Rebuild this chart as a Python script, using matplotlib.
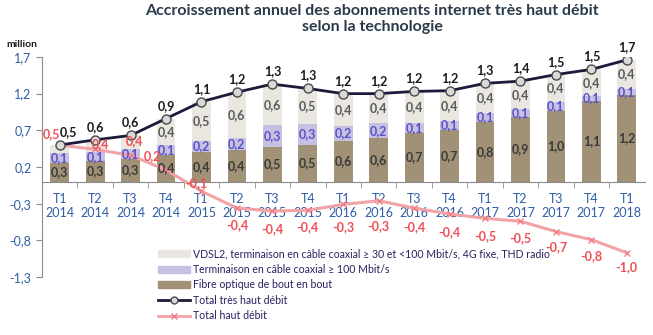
import matplotlib
matplotlib.use("Agg")
import matplotlib.pyplot as plt
from matplotlib.patches import Patch
from matplotlib.lines import Line2D

plt.rcParams['font.family'] = ['Lato', 'DejaVu Sans']

# quarters
quarters = ['T1', 'T2', 'T3', 'T4', 'T1', 'T2', 'T3', 'T4', 'T1', 'T2', 'T3', 'T4',
            'T1', 'T2', 'T3', 'T4', 'T1']
years = ['2014'] * 4 + ['2015'] * 4 + ['2016'] * 4 + ['2017'] * 4 + ['2018']

# millions
fibre = [0.26, 0.28, 0.31, 0.37, 0.40, 0.43, 0.47, 0.50, 0.56, 0.59, 0.66, 0.71,
         0.82, 0.88, 0.97, 1.10, 1.18]
coax = [0.13, 0.12, 0.14, 0.13, 0.16, 0.17, 0.30, 0.29, 0.20, 0.21, 0.14, 0.12,
        0.12, 0.11, 0.11, 0.07, 0.08]
vdsl = [0.11, 0.17, 0.18, 0.36, 0.53, 0.62, 0.56, 0.48, 0.44, 0.40, 0.43, 0.41,
        0.40, 0.38, 0.38, 0.36, 0.40]
total_thd = [0.50, 0.57, 0.63, 0.86, 1.09, 1.22, 1.33, 1.27, 1.20, 1.20, 1.23, 1.24,
             1.34, 1.37, 1.46, 1.53, 1.66]
total_hd = [0.50, 0.44, 0.36, 0.16, -0.13, -0.36, -0.40, -0.39, -0.31, -0.26, -0.36,
            -0.44, -0.50, -0.54, -0.68, -0.79, -0.97]

yticks = [-1.3, -0.8, -0.3, 0.2, 0.7, 1.2, 1.7]

c_fibre = '#a09177'
c_coax = '#c6c1e2'
c_vdsl = '#e9e7e0'
c_thd = '#1b1b3b'
c_hd = '#f3a3a6'
c_hd_txt = '#ef4f55'
c_tick = '#2f5da6'


def fmt(v):
    return f"{v:.1f}".replace('.', ',')


fig = plt.figure(figsize=(6.53, 3.35), dpi=100)
ax = fig.add_axes([0.0643, 0.173, 0.9227, 0.657])

x = list(range(len(quarters)))
w = 0.53
bottom2 = [f + c for f, c in zip(fibre, coax)]
ax.bar(x, fibre, w, color=c_fibre, zorder=2)
ax.bar(x, coax, w, bottom=fibre, color=c_coax, zorder=2)
ax.bar(x, vdsl, w, bottom=bottom2, color=c_vdsl, zorder=2)

fs = 9
for i in x:
    ax.text(i, fibre[i] / 2, fmt(fibre[i]), ha='center', va='center',
            fontsize=fs, fontweight='bold', color='#3a3a3a', zorder=5)
    ax.text(i, fibre[i] + coax[i] / 2, fmt(coax[i]), ha='center', va='center',
            fontsize=fs, fontweight='bold', color='#5b52c8', zorder=5)
    if vdsl[i] >= 0.2:
        ax.text(i, bottom2[i] + vdsl[i] / 2, fmt(vdsl[i]), ha='center', va='center',
                fontsize=fs, fontweight='bold', color='#5a5a5a', zorder=5)

ax.plot(x, total_hd, color=c_hd, lw=2.2, marker='x', ms=5, mew=1,
        mec='#ee8088', zorder=3)
ax.plot(x, total_thd, color=c_thd, lw=2, marker='o', ms=6.5,
        mfc='#d9d9d9', mec='#4a4a4a', mew=1, zorder=4)

for i in x:
    dx = 6 if i == 0 else 0
    ax.annotate(fmt(total_thd[i]), (i, total_thd[i]), xytext=(dx, 5),
                textcoords='offset points', ha='center', va='bottom',
                fontsize=fs, fontweight='bold', color='#1a1a1a', zorder=6)

# label placement for the "haut débit" values (points)
hd_off = [(-6, 8), (4, 4), (3, 10), (-10, 10), (-4, 6),
          (0, -12), (0, -13), (0, -12), (0, -16.5), (0, -18.5), (0, -14),
          (0, -13), (0, -13), (0, -12), (0, -11), (0, -12), (0, -10)]
for i in x:
    ox, oy = hd_off[i]
    ax.annotate(fmt(total_hd[i]), (i, total_hd[i]), xytext=(ox, oy),
                textcoords='offset points', ha='center', va='center',
                fontsize=fs, fontweight='bold', color=c_hd_txt, zorder=6)

ax.set_xlim(-0.5, len(x) - 0.5)
ax.set_ylim(-1.3, 1.7)
ax.set_yticks(yticks)
ax.set_yticklabels([fmt(v) for v in yticks])
ax.set_xticks(x)
ax.set_xticklabels([f"{q}\n{y}" for q, y in zip(quarters, years)], linespacing=1.15)
ax.set_xticks([i + 0.5 for i in x[:-1]], minor=True)
ax.tick_params(axis='x', which='major', length=0, pad=8, labelsize=9, colors=c_tick)
ax.tick_params(axis='x', which='minor', length=4, color='#8c8c8c', direction='out')
ax.tick_params(axis='y', length=4, color='#8c8c8c', labelsize=9, labelcolor=c_tick)

for s in ['top', 'right']:
    ax.spines[s].set_visible(False)
ax.spines['bottom'].set_position(('data', 0))
ax.spines['bottom'].set_color('#8c8c8c')
ax.spines['left'].set_color('#8c8c8c')

fig.text(0.57, 0.988, "Accroissement annuel des abonnements internet très haut débit\nselon la technologie",
         ha='center', va='top', fontsize=11.5, fontweight='bold', color='#2a3a4a',
         linespacing=1.2)
fig.text(0.01, 0.855, "million", ha='left', va='bottom', fontsize=7.5,
         fontweight='bold', color='#1a1a1a')

handles = [
    Patch(color=c_vdsl),
    Patch(color=c_coax),
    Patch(color=c_fibre),
    Line2D([], [], color=c_thd, lw=2, marker='o', ms=5, mfc='#d9d9d9', mec='#4a4a4a'),
    Line2D([], [], color=c_hd, lw=2, marker='x', ms=5, mec='#ee8088'),
]
labels = [
    "VDSL2, terminaison en câble coaxial ≥ 30 et <100 Mbit/s, 4G fixe, THD radio",
    "Terminaison en câble coaxial ≥ 100 Mbit/s",
    "Fibre optique de bout en bout",
    "Total très haut débit",
    "Total haut débit",
]
leg = fig.legend(handles, labels, loc='upper left', bbox_to_anchor=(0.242, 0.258),
                 frameon=False, fontsize=7.6, handlelength=3.0, handleheight=0.6,
                 handletextpad=0.3, labelspacing=0.42, borderaxespad=0, borderpad=0)
for t in leg.get_texts():
    t.set_color('#2a2060')

fig.savefig('out.png', dpi=100)
